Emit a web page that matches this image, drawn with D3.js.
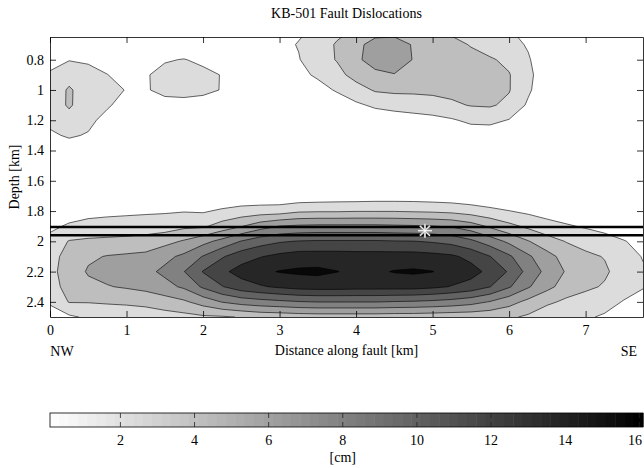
<!DOCTYPE html>
<html>
<head>
<meta charset="utf-8">
<script src="https://cdn.jsdelivr.net/npm/d3@7"></script>
<style>
  body { margin: 0; background: #fff; }
  text { font-family: "Liberation Serif", "Times New Roman", serif; fill: #000; }
</style>
</head>
<body>
<svg id="chart" width="644" height="468"></svg>
<script>
// Grid of the slip model: distance along the fault (km) and depth (km)
const distanceKm = [0, 0.25, 0.5, 0.75, 1, 1.25, 1.5, 1.75, 2, 2.25, 2.5, 2.75, 3, 3.25, 3.5, 3.75,
                    4, 4.25, 4.5, 4.75, 5, 5.25, 5.5, 5.75, 6, 6.25, 6.5, 6.75, 7, 7.25, 7.5, 7.75];
const depthKm = [0.6, 0.7, 0.8, 0.9, 1.0, 1.1, 1.2, 1.3, 1.4, 1.5, 1.6, 1.7, 1.8, 1.9, 2.0, 2.1, 2.2, 2.3, 2.4, 2.5];

// Dislocation (cm), one row per depth
const slipCm = [
  [0,0,0,0,0,0,0,0,0,0,0,0,1.2,2.0,2.6,3.6,4.4,5.2,5.0,4.8,4.0,3.8,3.2,2.6,2.4,1.6,0.5,0,0,0,0,0],
  [0.3,0.8,0.5,0.1,0,0.2,0.5,0.6,0.4,0.1,0,0,1.8,2.4,3.2,4.4,5.6,6.8,7.2,5.9,5.0,4.7,4.1,3.4,3.0,2.1,0.6,0,0,0,0,0],
  [1.5,2.2,2.0,1.2,0.4,1.0,2.1,2.4,1.8,1.2,0.2,0.3,1.6,2.2,3.4,4.3,5.7,7.0,7.3,6.0,5.2,5.0,4.7,4.4,3.8,2.5,0.9,0,0,0,0,0],
  [2.6,3.6,3.0,2.35,1.2,2.1,3.0,3.2,2.9,2.2,0.3,0.2,1.2,1.8,2.6,3.6,4.9,5.6,6.0,5.3,5.0,4.9,4.8,4.6,4.3,2.8,1.0,0,0,0,0,0],
  [3.2,4.4,3.4,3.0,2.2,2.1,2.9,3.0,2.8,2.2,0.2,0.1,0.5,1.0,1.6,2.5,3.4,4.4,4.6,4.6,4.7,4.7,4.7,4.7,4.3,2.6,0.9,0,0,0,0,0],
  [3.3,4.4,3.3,2.6,1.3,0.8,1.5,1.6,1.4,1.0,0.1,0,0.2,0.3,0.6,1.2,2.0,2.6,2.9,3.1,3.3,3.9,4.3,4.4,3.8,2.0,0.5,0,0,0,0,0],
  [2.9,3.6,2.9,1.5,0.5,0.2,0.3,0.3,0.2,0,0,0,0,0,0,0.3,0.9,1.2,1.4,1.6,1.8,2.1,2.7,2.8,2.2,1.0,0.2,0,0,0,0,0],
  [1.9,2.6,2.1,0.7,0.1,0,0,0,0,0,0,0,0,0,0,0,0.2,0.4,0.5,0.6,0.7,0.6,1.2,1.2,0.9,0.3,0,0,0,0,0,0],
  [0.5,1.0,0.8,0.2,0,0,0,0,0,0,0,0,0,0,0,0,0,0,0,0,0,0,0,0,0,0,0,0,0,0,0,0],
  [0,0,0,0,0,0,0,0,0,0,0,0,0,0,0,0,0,0,0,0,0,0,0,0,0,0,0,0,0,0,0,0],
  [0,0,0,0,0,0,0,0,0,0,0,0,0,0,0,0,0,0,0,0,0,0,0,0,0,0,0,0,0,0,0,0],
  [0,0,0,0,0.1,0.2,0.3,0.4,0.5,0.7,0.9,0.9,0.9,1.0,1.1,1.2,1.2,1.3,1.3,1.3,1.2,1.1,0.9,0.7,0.5,0.3,0.2,0.1,0,0,0,0],
  [0.3,1.2,1.6,1.8,1.9,2.0,2.1,2.2,2.1,2.6,3.0,3.2,3.3,3.9,4.0,4.0,4.1,4.1,4.1,4.0,3.9,3.7,3.3,2.8,2.35,1.9,1.5,1.2,0.9,0.6,0.3,0],
  [1.8,2.6,3.0,3.1,3.2,3.3,3.3,3.8,3.9,5.0,6.0,7.2,8.05,8.3,8.4,8.4,8.4,8.4,8.3,8.2,8.05,7.8,7.0,5.8,4.7,3.8,3.0,2.5,2.1,1.7,1.2,0.8],
  [3.0,4.3,4.5,4.6,4.7,4.9,5.5,6.3,7.4,8.6,10.0,11.0,11.6,11.9,12.0,12.0,12.0,12.0,11.9,11.85,11.6,11.2,10.3,9.0,7.6,6.2,5.0,4.1,3.5,3.0,2.4,1.7],
  [3.6,4.8,5.8,6.2,6.4,6.6,7.5,8.4,10.0,11.6,12.9,13.6,14.2,14.6,14.6,14.6,14.5,14.5,14.5,14.5,14.3,14.0,13.2,11.85,10.2,8.3,6.7,5.4,4.6,4.1,3.1,2.2],
  [3.7,5.0,6.3,6.7,7.0,7.5,8.4,9.85,11.9,13.3,14.4,15.2,15.7,15.9,16.0,15.65,15.2,15.3,15.7,15.85,15.65,14.9,14.4,13.2,11.6,9.24,7.42,5.92,5.1,4.5,3.3,2.5],
  [3.5,4.8,5.6,6.0,6.3,6.7,7.4,8.3,10.2,11.7,12.9,13.5,14.0,14.4,14.5,14.5,14.4,14.4,14.4,14.4,14.1,13.6,13.0,11.85,10.1,8.2,6.6,5.3,4.6,4.0,3.0,2.4],
  [2.6,4.3,4.3,4.4,4.5,4.7,5.2,5.8,6.9,8.1,8.8,9.2,9.5,9.8,9.95,9.95,9.95,9.95,9.8,9.7,9.5,9.2,8.7,7.9,6.8,5.6,4.6,3.8,3.3,2.9,2.2,1.7],
  [1.2,2.0,2.6,3.0,3.1,3.2,3.4,3.6,3.9,4.0,4.3,4.7,4.8,5.0,5.1,5.1,5.1,5.1,5.0,5.0,4.9,4.8,4.8,4.7,4.5,3.9,2.8,2.8,2.5,2.1,1.2,0.9]
];

const contourLevels = [2.3, 4.2, 6.1, 8.0, 9.9, 11.8, 13.7, 15.6];
const slipRange = [0.1, 16.1];
const xTicks = [0, 1, 2, 3, 4, 5, 6, 7];
const yTicks = [0.8, 1, 1.2, 1.4, 1.6, 1.8, 2, 2.2, 2.4];
const colorbarTicks = [2, 4, 6, 8, 10, 12, 14, 16];
const faultTraceDepths = [1.905, 1.96];
const hypocenter = { x: 4.9, depth: 1.93 };
const xDomain = [0, 7.75];
const yDomain = [0.65, 2.5];

const FONT = 14;
const svg = d3.select("#chart");
const plot = { left: 50, right: 643, top: 37, bottom: 317 };

const x = d3.scaleLinear().domain(xDomain).range([plot.left, plot.right]);
const y = d3.scaleLinear().domain(yDomain).range([plot.top, plot.bottom]);
const gray = d3.scaleLinear().domain(slipRange).range(["#ffffff", "#000000"]).clamp(true);

svg.append("defs").append("clipPath").attr("id", "plotClip")
  .append("rect")
  .attr("x", plot.left).attr("y", plot.top)
  .attr("width", plot.right - plot.left).attr("height", plot.bottom - plot.top);

// Filled contours (values are cell-centred in d3.contours)
const nx = distanceKm.length, ny = depthKm.length;
const dx = distanceKm[1] - distanceKm[0];
const dy = depthKm[1] - depthKm[0];
const contours = d3.contours().size([nx, ny]).thresholds(contourLevels)(slipCm.flat());

const gridToPixels = d3.geoTransform({
  point: function (gx, gy) {
    this.stream.point(x(distanceKm[0] + (gx - 0.5) * dx), y(depthKm[0] + (gy - 0.5) * dy));
  }
});
const path = d3.geoPath(gridToPixels);

const field = svg.append("g").attr("clip-path", "url(#plotClip)");
field.selectAll("path.band")
  .data(contours)
  .join("path")
  .attr("class", "band")
  .attr("d", path)
  .attr("fill", d => gray(d.value))
  .attr("stroke", "#000")
  .attr("stroke-width", 0.6)
  .attr("stroke-linejoin", "round");

// Fault traces
field.selectAll("line.trace")
  .data(faultTraceDepths)
  .join("line")
  .attr("class", "trace")
  .attr("x1", plot.left).attr("x2", plot.right)
  .attr("y1", d => y(d)).attr("y2", d => y(d))
  .attr("stroke", "#000").attr("stroke-width", 2.6);

// Hypocentre marker (asterisk)
const hx = x(hypocenter.x), hy = y(hypocenter.depth), r = 7;
const arms = [[-r, 0, r, 0], [0, -r, 0, r], [-r * 0.72, -r * 0.72, r * 0.72, r * 0.72], [-r * 0.72, r * 0.72, r * 0.72, -r * 0.72]];
const star = svg.append("g").attr("transform", `translate(${hx},${hy})`);
star.selectAll("line.halo").data(arms).join("line").attr("class", "halo")
  .attr("x1", d => d[0]).attr("y1", d => d[1]).attr("x2", d => d[2]).attr("y2", d => d[3])
  .attr("stroke", "#9a9a9a").attr("stroke-width", 2.2);
star.selectAll("line.core").data(arms).join("line").attr("class", "core")
  .attr("x1", d => d[0]).attr("y1", d => d[1]).attr("x2", d => d[2]).attr("y2", d => d[3])
  .attr("stroke", "#fff").attr("stroke-width", 1);

// Axes (ticks point inward, box on)
function styleAxis(g) {
  g.selectAll("path.domain").attr("stroke", "#000").attr("stroke-width", 0.8);
  g.selectAll(".tick line").attr("stroke", "#000").attr("stroke-width", 0.8);
  g.selectAll(".tick text").attr("font-family", "Liberation Serif, Times New Roman, serif")
    .attr("font-size", FONT).attr("fill", "#000");
}
const fmt = d3.format("~g");
svg.append("g").attr("transform", `translate(0,${plot.bottom})`)
  .call(d3.axisBottom(x).tickValues(xTicks).tickFormat(fmt).tickSizeInner(-6).tickSizeOuter(0).tickPadding(8))
  .call(styleAxis);
svg.append("g").attr("transform", `translate(0,${plot.top})`)
  .call(d3.axisTop(x).tickValues(xTicks).tickFormat("").tickSizeInner(-6).tickSizeOuter(0))
  .call(styleAxis);
svg.append("g").attr("transform", `translate(${plot.left},0)`)
  .call(d3.axisLeft(y).tickValues(yTicks).tickFormat(fmt).tickSizeInner(-6).tickSizeOuter(0).tickPadding(6))
  .call(styleAxis);
svg.append("g").attr("transform", `translate(${plot.right},0)`)
  .call(d3.axisRight(y).tickValues(yTicks).tickFormat("").tickSizeInner(-6).tickSizeOuter(0))
  .call(styleAxis);

// Titles and labels
svg.append("text").attr("x", (plot.left + plot.right) / 2).attr("y", 18)
  .attr("text-anchor", "middle").attr("font-size", FONT).text("KB-501 Fault Dislocations");
svg.append("text").attr("transform", `translate(19,${(plot.top + plot.bottom) / 2}) rotate(-90)`)
  .attr("text-anchor", "middle").attr("font-size", FONT).text("Depth [km]");
svg.append("text").attr("x", (plot.left + plot.right) / 2).attr("y", 355)
  .attr("text-anchor", "middle").attr("font-size", FONT).text("Distance along fault [km]");
svg.append("text").attr("x", 62).attr("y", 356).attr("text-anchor", "middle").attr("font-size", FONT).text("NW");
svg.append("text").attr("x", 629).attr("y", 356).attr("text-anchor", "middle").attr("font-size", FONT).text("SE");

// Colour bar
const cb = { left: 50, right: 643, top: 413, bottom: 427 };
const cx = d3.scaleLinear().domain(slipRange).range([cb.left, cb.right]);
const steps = d3.range(64);
const stepW = (slipRange[1] - slipRange[0]) / steps.length;
svg.append("g").selectAll("rect")
  .data(steps)
  .join("rect")
  .attr("x", i => cx(slipRange[0] + i * stepW))
  .attr("y", cb.top)
  .attr("width", i => cx(slipRange[0] + (i + 1) * stepW) - cx(slipRange[0] + i * stepW) + 0.5)
  .attr("height", cb.bottom - cb.top)
  .attr("fill", i => gray(slipRange[0] + (i + 0.5) * stepW));
svg.append("rect").attr("x", cb.left).attr("y", cb.top)
  .attr("width", cb.right - cb.left).attr("height", cb.bottom - cb.top)
  .attr("fill", "none").attr("stroke", "#000").attr("stroke-width", 0.8);
const cbTicks = svg.append("g");
cbTicks.selectAll("line.top").data(colorbarTicks).join("line").attr("class", "top")
  .attr("x1", d => cx(d)).attr("x2", d => cx(d)).attr("y1", cb.top).attr("y2", cb.top + 5)
  .attr("stroke", "#222").attr("stroke-width", 0.8);
cbTicks.selectAll("line.bot").data(colorbarTicks).join("line").attr("class", "bot")
  .attr("x1", d => cx(d)).attr("x2", d => cx(d)).attr("y1", cb.bottom - 5).attr("y2", cb.bottom)
  .attr("stroke", "#222").attr("stroke-width", 0.8);
cbTicks.selectAll("text").data(colorbarTicks).join("text")
  .attr("x", d => Math.min(cx(d), 635)).attr("y", 445).attr("text-anchor", "middle").attr("font-size", FONT)
  .text(d => fmt(d));
svg.append("text").attr("x", cx(8)).attr("y", 462).attr("text-anchor", "middle")
  .attr("font-size", FONT).text("[cm]");
</script>
</body>
</html>
